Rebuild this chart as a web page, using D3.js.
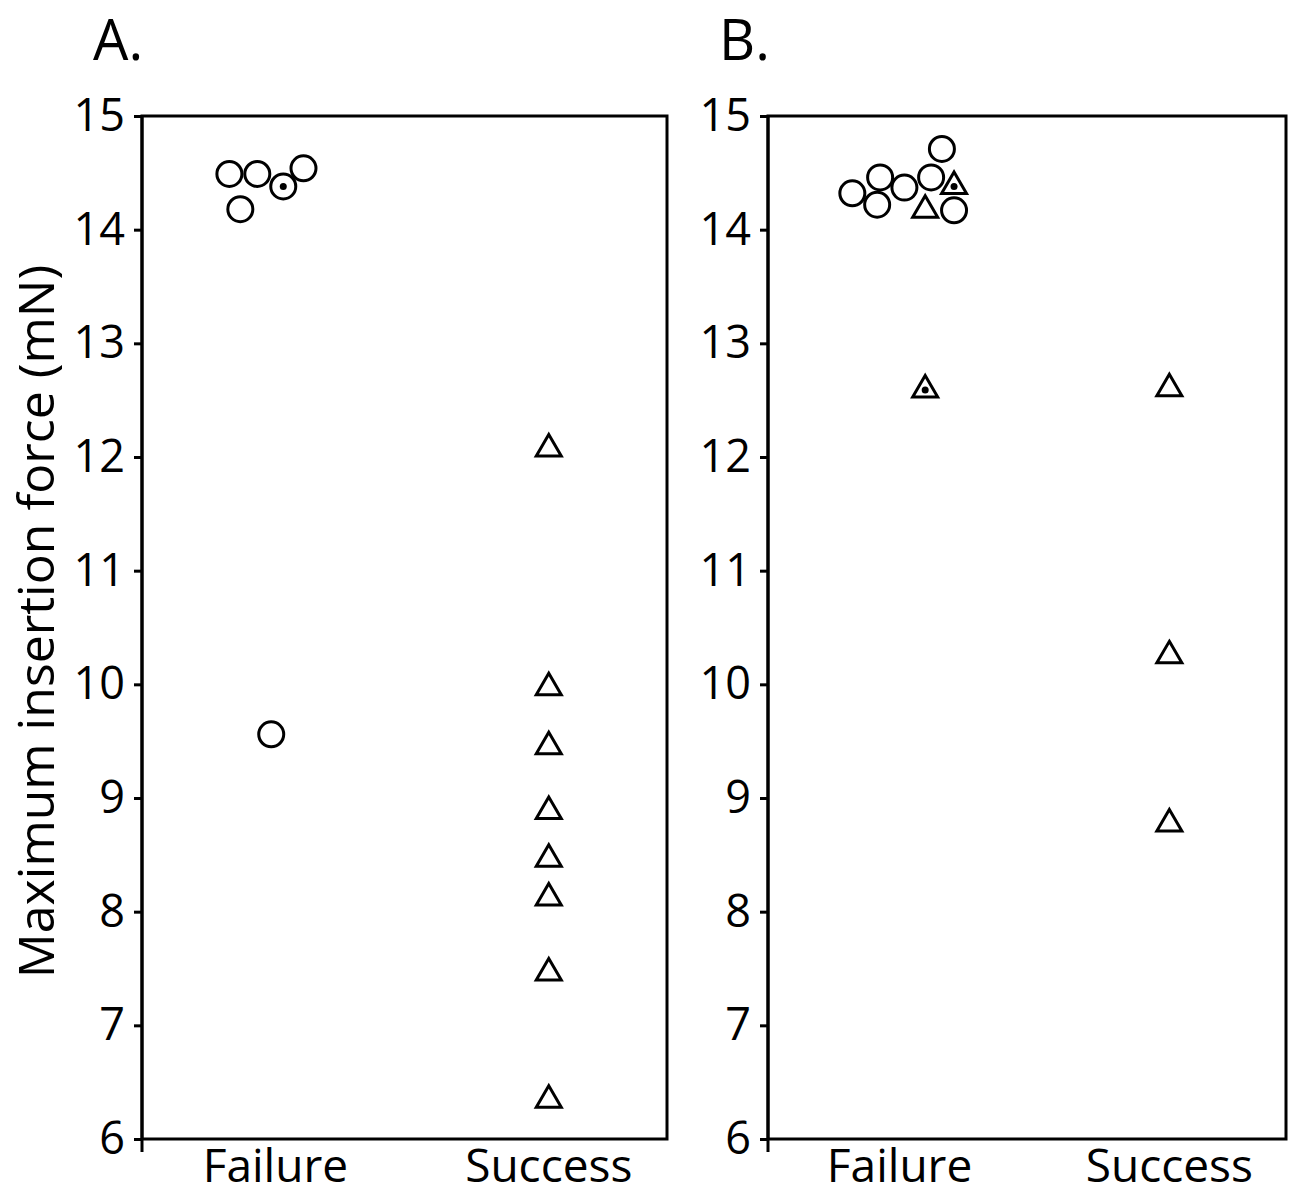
<!DOCTYPE html>
<html>
<head>
<meta charset="utf-8">
<script src="https://cdn.jsdelivr.net/npm/d3@7"></script>
<style>
  html, body { margin: 0; padding: 0; background: #fff; }
  svg { display: block; }
  text { font-family: "Open Sans", "Noto Sans", sans-serif; fill: #000; }
</style>
</head>
<body>
<svg id="chart" width="1303" height="1195"></svg>
<script>
// ---------------- data ----------------
const categories = ["Failure", "Success"];
const yTicks = [6, 7, 8, 9, 10, 11, 12, 13, 14, 15];
const yTitle = "Maximum insertion force (mN)";
const panelLabels = ["A.", "B."];

// Panel A
const aGroup  = ["Failure","Failure","Failure","Failure","Failure","Failure",
                 "Success","Success","Success","Success","Success","Success","Success","Success"];
const aValue  = [14.49, 14.49, 14.38, 14.54, 14.18, 9.56,
                 12.11, 10.01, 9.49, 8.92, 8.50, 8.16, 7.50, 6.38];
const aShape  = ["circle","circle","circle","circle","circle","circle",
                 "triangle","triangle","triangle","triangle","triangle","triangle","triangle","triangle"];
const aDotted = [false, false, true, false, false, false,
                 false, false, false, false, false, false, false, false];
const aJitter = [-0.168, -0.066, 0.029, 0.103, -0.128, -0.015,
                 0, 0, 0, 0, 0, 0, 0, 0];

// Panel B
const bGroup  = ["Failure","Failure","Failure","Failure","Failure","Failure","Failure",
                 "Failure","Failure","Failure","Success","Success","Success"];
const bValue  = [14.32, 14.46, 14.22, 14.37, 14.46, 14.71, 14.17,
                 14.42, 14.21, 12.63, 12.64, 10.29, 8.81];
const bShape  = ["circle","circle","circle","circle","circle","circle","circle",
                 "triangle","triangle","triangle","triangle","triangle","triangle"];
const bDotted = [false, false, false, false, false, false, false,
                 true, false, true, false, false, false];
const bJitter = [-0.175, -0.072, -0.083, 0.018, 0.117, 0.157, 0.202,
                 0.202, 0.095, 0.095, 0, 0, 0];

// ---------------- layout ----------------
const svg = d3.select("#chart");
const plotTop = 116, plotBottom = 1139;
const panels = [
  { label: panelLabels[0], x0: 142, x1: 667, group: aGroup, value: aValue, shape: aShape, dotted: aDotted, jitter: aJitter },
  { label: panelLabels[1], x0: 768, x1: 1286, group: bGroup, value: bValue, shape: bShape, dotted: bDotted, jitter: bJitter }
];

const y = d3.scaleLinear().domain([6, 15]).range([plotBottom, plotTop]);

const triPath = "M0,-10 L12.5,11.5 L-12.5,11.5 Z";

panels.forEach(p => {
  const g = svg.append("g");
  const x = d3.scalePoint().domain(categories).range([p.x0, p.x1]).padding(0.46).align(0.53);
  const step = x.step();

  // y axis ticks + labels
  const axis = d3.axisLeft(y).tickValues(yTicks).tickSize(8).tickPadding(9).tickFormat(d3.format("d"));
  const ag = g.append("g").attr("transform", `translate(${p.x0},0)`).call(axis);
  ag.select(".domain").remove();
  ag.selectAll(".tick line").attr("stroke", "#000").attr("stroke-width", 3);
  ag.selectAll(".tick text")
    .style("font-family", '"Open Sans", sans-serif')
    .style("font-size", "45px")
    .attr("fill", "#000");

  // frame
  g.append("rect")
    .attr("x", p.x0).attr("y", plotTop)
    .attr("width", p.x1 - p.x0).attr("height", plotBottom - plotTop)
    .attr("fill", "none").attr("stroke", "#000").attr("stroke-width", 3);
  g.append("line")
    .attr("x1", p.x0).attr("x2", p.x0)
    .attr("y1", plotTop).attr("y2", plotBottom + 13)
    .attr("stroke", "#000").attr("stroke-width", 3);

  // x category labels
  g.selectAll(".xlab").data(categories).enter().append("text")
    .attr("class", "xlab")
    .attr("x", d => x(d)).attr("y", 1182)
    .attr("text-anchor", "middle")
    .style("font-size", "46px")
    .text(d => d);

  // panel label
  g.append("text")
    .attr("x", p.x0 - 49).attr("y", 60)
    .style("font-size", "56px")
    .text(p.label);

  // points
  const pts = p.value.map((v, i) => ({
    v, grp: p.group[i], shape: p.shape[i], dot: p.dotted[i], j: p.jitter[i]
  }));
  const pg = g.selectAll(".pt").data(pts).enter().append("g")
    .attr("class", "pt")
    .attr("transform", d => `translate(${x(d.grp) + d.j * step},${y(d.v)})`);

  pg.filter(d => d.shape === "circle").append("circle")
    .attr("r", 12.5).attr("fill", "#fff").attr("stroke", "#000").attr("stroke-width", 3);
  pg.filter(d => d.shape === "triangle").append("path")
    .attr("d", triPath).attr("fill", "#fff").attr("stroke", "#000")
    .attr("stroke-width", 3).attr("stroke-linejoin", "miter");
  pg.filter(d => d.dot).append("circle")
    .attr("cy", d => d.shape === "triangle" ? 4.5 : 0)
    .attr("r", 3.5).attr("fill", "#000");
});

// y axis title
svg.append("text")
  .attr("transform", `translate(54,${(plotTop + plotBottom) / 2 - 6}) rotate(-90)`)
  .attr("text-anchor", "middle")
  .style("font-size", "50px")
  .text(yTitle);
</script>
</body>
</html>
